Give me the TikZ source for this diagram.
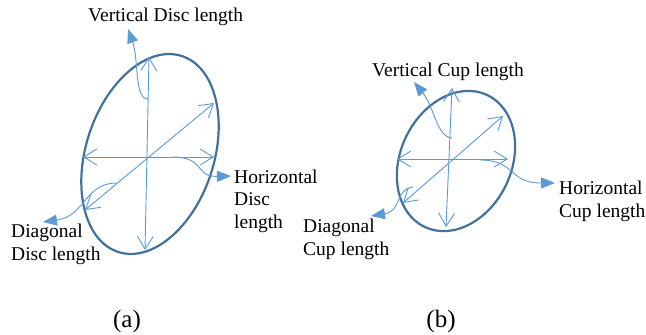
\documentclass[tikz,border=0pt]{standalone}
\usepackage{fontspec}
\setmainfont{Liberation Serif}
\usetikzlibrary{arrows.meta}
\definecolor{armblue}{HTML}{5B9BD5}
\definecolor{ringblue}{HTML}{41719C}
\begin{document}
\begin{tikzpicture}[x=1pt,y=-1pt,
  meas/.style={draw=armblue,line width=0.9pt,
    {Straight Barb[length=13pt,width=16pt]}-{Straight Barb[length=13pt,width=16pt]}},
  callout/.style={draw=armblue,line width=0.9pt,-{Triangle[length=14pt,width=11pt]}},
  ring/.style={draw=ringblue,line width=2.2pt},
  lbl/.style={inner sep=0pt,align=left,font=\fontsize{19.5}{22.5}\selectfont,text=black},
  figcaption/.style={inner sep=0pt,font=\fontsize{25}{28}\selectfont,text=black}]
\useasboundingbox (0,0) rectangle (646,335);
% ---------- (a) ----------
\coordinate (ac) at (150,154);
\draw[ring,rotate around={72:(ac)}] (ac) ellipse [x radius=103, y radius=64];
\coordinate (aT) at (149,57);
\coordinate (aB) at (145,250);
\coordinate (aL) at (83,157);
\coordinate (aR) at (214,157);
\coordinate (aDU) at (214,103);
\coordinate (aDL) at (85,210);
\draw[meas] (aB) -- (aT);
\draw[meas] (aL) -- (aR);
\draw[meas] (aDL) -- (aDU);
\coordinate (avs) at (148,99);
\coordinate (avt) at (128,29);
\coordinate (ahs) at (172,157);
\coordinate (aht) at (231,176);
\coordinate (ads) at (117,183);
\coordinate (adt) at (43,222);
\draw[callout] (avs) .. controls (134,99) and (139,60) .. (avt);
\draw[callout] (ahs) .. controls (206,157) and (194,177) .. (aht);
\draw[callout] (ads) .. controls (84,183) and (86,216) .. (adt);
\node[lbl,anchor=base west] (avl) at (88,21) {Vertical Disc length};
\node[lbl,anchor=base west] (ahl) at (234,228) {Horizontal\\Disc\\length};
\node[lbl,anchor=base west] (adl) at (11,260) {Diagonal\\Disc length};
\node[figcaption,anchor=base] (capa) at (127,327) {(a)};
% ---------- (b) ----------
\coordinate (bc) at (456,161);
\draw[ring,rotate around={64.6:(bc)}] (bc) ellipse [x radius=73, y radius=55.5];
\coordinate (bT) at (452,88);
\coordinate (bB) at (446,227);
\coordinate (bL) at (397,159);
\coordinate (bR) at (508,159);
\coordinate (bDU) at (503,116);
\coordinate (bDL) at (403,203);
\draw[meas] (bB) -- (bT);
\draw[meas] (bL) -- (bR);
\draw[meas] (bDL) -- (bDU);
\coordinate (bvs) at (452,138);
\coordinate (bvt) at (414,82);
\coordinate (bhs) at (480,160);
\coordinate (bht) at (555,183);
\coordinate (bds) at (413,187);
\coordinate (bdt) at (371,216);
\draw[callout] (bvs) .. controls (436,136) and (435,108) .. (bvt);
\draw[callout] (bhs) .. controls (516,160) and (508,183) .. (bht);
\draw[callout] (bds) .. controls (395,189) and (402,211) .. (bdt);
\node[lbl,anchor=base west] (bvl) at (372,76) {Vertical Cup length};
\node[lbl,anchor=base west] (bhl) at (559,217) {Horizontal\\Cup length};
\node[lbl,anchor=base west] (bdl) at (303,255) {Diagonal\\Cup length};
\node[figcaption,anchor=base] (capb) at (441,327) {(b)};
\end{tikzpicture}
\end{document}
